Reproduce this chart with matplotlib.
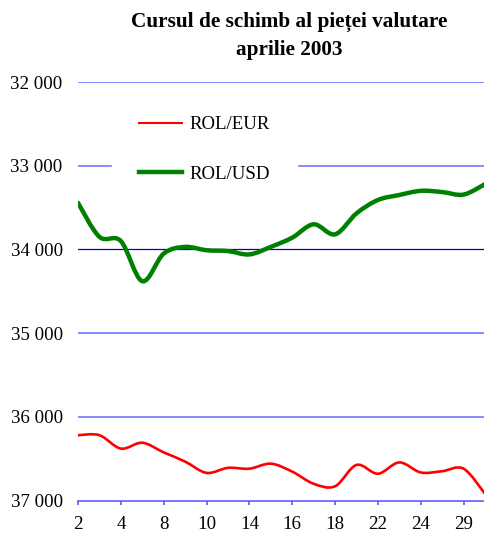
import matplotlib
matplotlib.use("Agg")
import matplotlib.pyplot as plt
from matplotlib.path import Path
from matplotlib.patches import PathPatch
from matplotlib.lines import Line2D
from matplotlib.ticker import FuncFormatter

plt.rcParams['font.family'] = ['Liberation Serif', 'DejaVu Serif']

days = [2, 3, 4, 7, 8, 9, 10, 11, 14, 15, 16, 17, 18, 21, 22, 23, 24, 25, 29, 30]
rol_eur = [36220, 36220, 36380, 36310, 36425, 36535, 36670, 36610, 36620, 36560,
           36655, 36800, 36830, 36575, 36680, 36545, 36665, 36650, 36620, 36920]
rol_usd = [33444, 33850, 33900, 34380, 34050, 33970, 34010, 34020, 34060, 33970,
           33860, 33700, 33820, 33570, 33410, 33350, 33300, 33315, 33345, 33220]
yticks = [32000, 33000, 34000, 35000, 36000, 37000]
title_lines = ["Cursul de schimb al pieței valutare", "aprilie 2003"]


def smooth_path(xs, ys):
    n = len(xs)
    verts = [(xs[0], ys[0])]
    codes = [Path.MOVETO]
    for i in range(n - 1):
        p0 = (xs[max(i - 1, 0)], ys[max(i - 1, 0)])
        p1 = (xs[i], ys[i])
        p2 = (xs[i + 1], ys[i + 1])
        p3 = (xs[min(i + 2, n - 1)], ys[min(i + 2, n - 1)])
        c1 = (p1[0] + (p2[0] - p0[0]) / 6, p1[1] + (p2[1] - p0[1]) / 6)
        c2 = (p2[0] - (p3[0] - p1[0]) / 6, p2[1] - (p3[1] - p1[1]) / 6)
        verts += [c1, c2, p2]
        codes += [Path.CURVE4] * 3
    return Path(verts, codes)


fig = plt.figure(figsize=(4.85, 5.33), dpi=100)
ax = fig.add_axes([78 / 485, 1 - 500.5 / 533, 1 - 78 / 485, (500.5 - 82) / 533])

x = list(range(len(days)))
ax.set_xlim(0, len(days) - 1)
ax.set_ylim(37000, 32000)

for v in yticks[:-1]:
    if v == 34000:
        ax.axhline(v, color='#0000cc', lw=0.9, zorder=1)
    else:
        ax.axhline(v, color='#6a6aff', lw=1.1, zorder=1)

ax.add_patch(PathPatch(smooth_path(x, rol_eur), facecolor='none', edgecolor='#ff0000',
                       lw=1.9, zorder=3, capstyle='round', joinstyle='round'))
ax.add_patch(PathPatch(smooth_path(x, rol_usd), facecolor='none', edgecolor='#008000',
                       lw=3.2, zorder=3, capstyle='round', joinstyle='round'))

for s in ['top', 'right', 'left']:
    ax.spines[s].set_visible(False)
ax.spines['bottom'].set_color('#5050ff')
ax.spines['bottom'].set_linewidth(1.1)

ax.set_yticks(yticks)
ax.yaxis.set_major_formatter(FuncFormatter(lambda v, p: f"{int(v):,}".replace(",", " ")))
ax.tick_params(axis='y', length=0, pad=11, labelsize=13.6)
ax.set_xticks(x[::2])
ax.set_xticklabels([str(d) for d in days[::2]])
ax.tick_params(axis='x', length=3, width=1.1, color='#5050ff', pad=8, labelsize=13.6)

handles = [Line2D([], [], color='#ff0000', lw=1.5),
           Line2D([], [], color='#008000', lw=3.2)]
leg = ax.legend(handles, ['ROL/EUR', 'ROL/USD'], loc='upper left',
                bbox_to_anchor=(112 / 485, 1 - 89 / 533), bbox_transform=fig.transFigure,
                frameon=True, facecolor='white', edgecolor='white', framealpha=1,
                fancybox=False, fontsize=13.6, borderpad=1.43, handlelength=2.3,
                handletextpad=0.35, labelspacing=1.71, borderaxespad=0)
leg.set_zorder(5)

fig.text(289 / 485, 1 - 22 / 533, title_lines[0], ha='center', va='center',
         fontsize=15.3, fontweight='bold')
fig.text(289 / 485, 1 - 50 / 533, title_lines[1], ha='center', va='center',
         fontsize=15.3, fontweight='bold')

fig.savefig('out.png', dpi=100)
